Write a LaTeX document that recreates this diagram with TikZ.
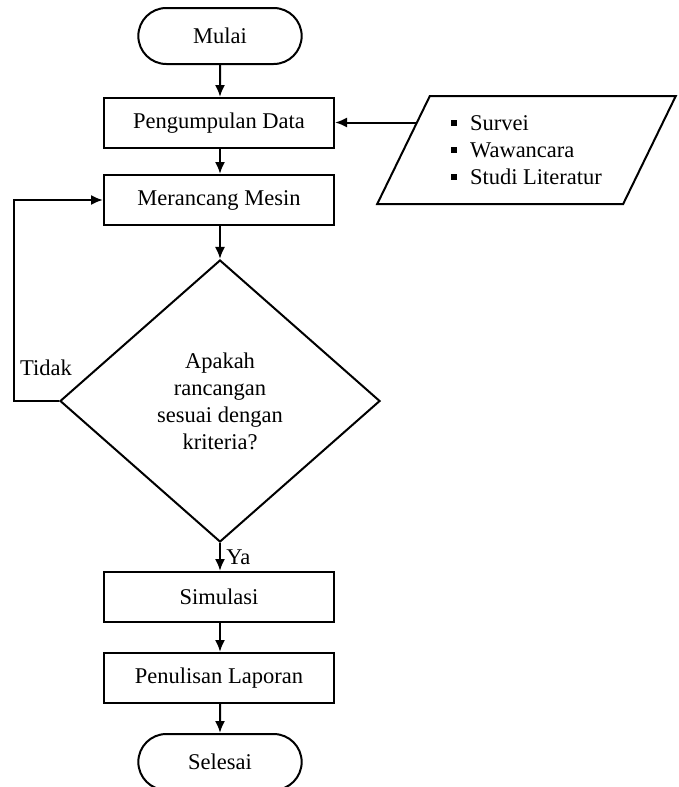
\documentclass[tikz,border=0pt]{standalone}
\usepackage{fontspec}
\setmainfont{Liberation Serif}
\usetikzlibrary{calc,arrows.meta,positioning,shapes.geometric,shapes.misc}

\newcommand{\kotak}{\raisebox{4pt}{\rule{6pt}{6pt}}\hspace{13pt}}

\begin{document}
\begin{tikzpicture}[x=1pt, y=-1pt,
        line/.style={line width=2pt, >={Latex[length=12pt,width=10pt]}},
        every node/.style={font=\fontsize{22.5}{27}\selectfont},
        terminal/.style={rounded rectangle, draw, line, minimum width=170pt, minimum height=56pt},
        proses/.style={rectangle, draw, line, minimum width=230pt, minimum height=50pt},
        keputusan/.style={diamond, draw, line, inner sep=0pt, align=center, minimum width=320pt, minimum height=282pt},
        masukan/.style={trapezium, draw, line, trapezium stretches, trapezium left angle=60.5, trapezium right angle=119.5, minimum width=299pt, minimum height=108pt, align=left}]
    \useasboundingbox (0, 0) rectangle (678, 787);

    \node[terminal] (mulai) at (220, 36) {Mulai};
    \node[proses] (data) at (219, 123) {Pengumpulan Data};
    \node[proses] (rancang) at (219, 200) {Merancang Mesin};
    \node[keputusan] (cek) at (220, 401) {Apakah\\rancangan\\sesuai dengan\\kriteria?};
    \node[proses] (simulasi) at (219, 597) {Simulasi};
    \node[proses] (laporan) at (219, 678) {Penulisan Laporan};
    \node[terminal] (selesai) at (220, 762) {Selesai};

    \node[masukan] (sumber) at (526.5, 150) {\kotak Survei\\\kotak Wawancara\\\kotak Studi Literatur};
    \coordinate (masuk) at ($(sumber.top left corner)!0.25!(sumber.bottom left corner)$);
    \coordinate (balik) at (14, 401);

    \draw[->, line] (mulai) -- (mulai |- data.north);
    \draw[->, line] (data.south -| cek) -- (rancang.north -| cek);
    \draw[->, line] (rancang.south -| cek) -- (cek);
    \draw[->, line] (masuk) -- (masuk -| data.east);
    \draw[->, line] (cek.west) -- (balik) |- (rancang.west);
    \node (tidak) at (46, 368) {Tidak};
    \draw[->, line] (cek) -- (cek |- simulasi.north) node[right, pos=0.5, xshift=2pt] (ya) {Ya};
    \draw[->, line] (simulasi.south -| cek) -- (laporan.north -| cek);
    \draw[->, line] (laporan.south -| cek) -- (selesai);
\end{tikzpicture}
\end{document}
